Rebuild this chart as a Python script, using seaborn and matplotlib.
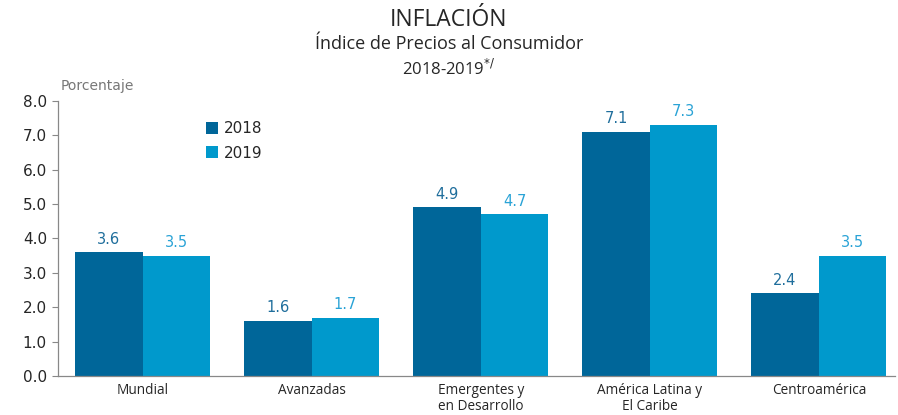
import pandas as pd
import matplotlib.pyplot as plt
import seaborn as sns

# --- datos ---
categorias = ['Mundial', 'Avanzadas', 'Emergentes y\nen Desarrollo',
              'América Latina y\nEl Caribe', 'Centroamérica']
valores_2018 = [3.6, 1.6, 4.9, 7.1, 2.4]
valores_2019 = [3.5, 1.7, 4.7, 7.3, 3.5]
anios = ['2018', '2019']
colores = ['#006699', '#0099CC']
colores_etiqueta = ['#1F6E9C', '#2AA3D6']

df = pd.DataFrame({
    'categoria': categorias * 2,
    'anio': [anios[0]] * len(categorias) + [anios[1]] * len(categorias),
    'valor': valores_2018 + valores_2019,
})

sns.set_style('white')
plt.rcParams['font.family'] = ['DejaVu Sans']

fig = plt.figure(figsize=(8.98, 4.15), dpi=100)
ax = fig.add_axes([0.0646, 0.094, 0.932, 0.663])

sns.barplot(data=df, x='categoria', y='valor', hue='anio', palette=colores,
            width=0.8, ax=ax, saturation=1, legend=True, linewidth=0)

# etiquetas de datos
for cont, col in zip(ax.containers, colores_etiqueta):
    ax.bar_label(cont, fmt='%.1f', padding=4, fontsize=10.5, color=col,
                 fontfamily='DejaVu Sans')

ax.set_ylim(0, 8)
ax.set_xlim(-0.5, 4.45)
ax.set_yticks([0, 1, 2, 3, 4, 5, 6, 7, 8])
ax.set_yticklabels([f'{v:.1f}' for v in range(9)], fontsize=11)
ax.set_xticks(range(len(categorias)))
ax.set_xticklabels(categorias, fontsize=9.8, fontfamily='Open Sans',
                   linespacing=1.1)
ax.tick_params(axis='x', length=0, pad=5)
ax.tick_params(axis='y', length=4, width=0.8, color='#888888', direction='out', left=True, pad=4)
ax.set_xlabel('')
ax.set_ylabel('')
sns.despine(ax=ax, top=True, right=True)
for s in ['left', 'bottom']:
    ax.spines[s].set_color('#888888')
    ax.spines[s].set_linewidth(0.9)

leg = ax.legend(loc='upper left', bbox_to_anchor=(0.16, 0.975), frameon=False,
                fontsize=11, handlelength=0.8, handleheight=0.8,
                handletextpad=0.4, labelspacing=0.6)

# titulos
fig.text(0.5, 0.952, 'INFLACIÓN', ha='center', va='center', fontsize=16.5,
         fontfamily='Open Sans')
fig.text(0.5, 0.893, 'Índice de Precios al Consumidor', ha='center', va='center',
         fontsize=13, fontfamily='Open Sans')
fig.text(0.5, 0.835, '2018-2019$^{*/}$', ha='center', va='center',
         fontsize=12, fontfamily='Open Sans')
fig.text(0.067, 0.793, 'Porcentaje', ha='left', va='center', fontsize=10,
         color='#777777')

fig.savefig('out.png', dpi=100)
